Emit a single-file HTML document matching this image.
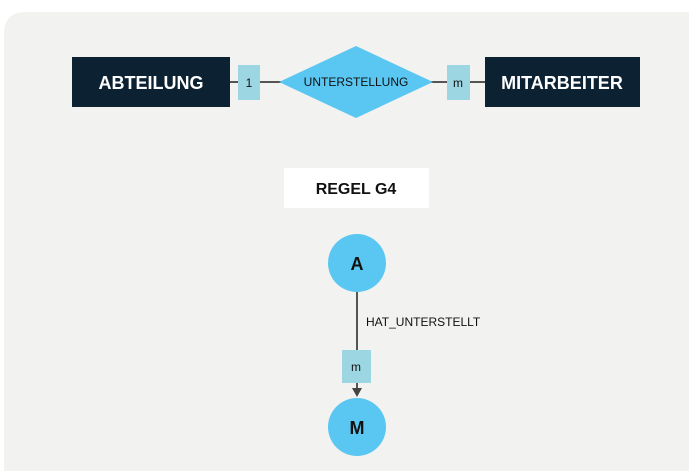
<!DOCTYPE html>
<html><head><style>
html,body{margin:0;width:689px;height:471px;background:#fff;overflow:hidden;font-family:"Liberation Sans",sans-serif}
svg{display:block}
</style></head><body>
<svg width="689" height="471" xmlns="http://www.w3.org/2000/svg" font-family="Liberation Sans, sans-serif">
<path d="M4,471 L4,34 Q4,12 26,12 L689,12 L689,471 Z" fill="#f2f2f0"/>
<line x1="230" y1="82" x2="485" y2="82" stroke="#555" stroke-width="2"/>
<rect x="72" y="57" width="158" height="50" fill="#0c2233"/>
<text x="151" y="89" text-anchor="middle" fill="#fff" font-size="18" font-weight="bold">ABTEILUNG</text>
<rect x="485" y="57" width="155" height="50" fill="#0c2233"/>
<text x="562" y="89" text-anchor="middle" fill="#fff" font-size="18" font-weight="bold">MITARBEITER</text>
<polygon points="356,46 433,82 356,118 279,82" fill="#5ac7f2"/>
<text x="356" y="86" text-anchor="middle" fill="#111" font-size="12">UNTERSTELLUNG</text>
<rect x="238" y="65" width="22" height="35" fill="#9cd6e3"/>
<text x="249" y="87" text-anchor="middle" fill="#111" font-size="12">1</text>
<rect x="447" y="65" width="23" height="35" fill="#9cd6e3"/>
<text x="458" y="87" text-anchor="middle" fill="#111" font-size="12">m</text>
<rect x="284" y="168" width="145" height="40" fill="#fff"/>
<text x="356" y="194" text-anchor="middle" fill="#111" font-size="16" font-weight="bold">REGEL G4</text>
<line x1="357" y1="290" x2="357" y2="390" stroke="#555" stroke-width="2"/>
<polygon points="352,388 362,388 357,397" fill="#444"/>
<circle cx="357" cy="263" r="29" fill="#5ac7f2"/>
<text x="357" y="270" text-anchor="middle" fill="#111" font-size="18" font-weight="bold">A</text>
<circle cx="357" cy="427" r="29" fill="#5ac7f2"/>
<text x="357" y="434" text-anchor="middle" fill="#111" font-size="18" font-weight="bold">M</text>
<rect x="342" y="350" width="29" height="33" fill="#9cd6e3"/>
<text x="356" y="371" text-anchor="middle" fill="#111" font-size="12">m</text>
<text x="366" y="326" fill="#111" font-size="12">HAT_UNTERSTELLT</text>
</svg>
</body></html>
